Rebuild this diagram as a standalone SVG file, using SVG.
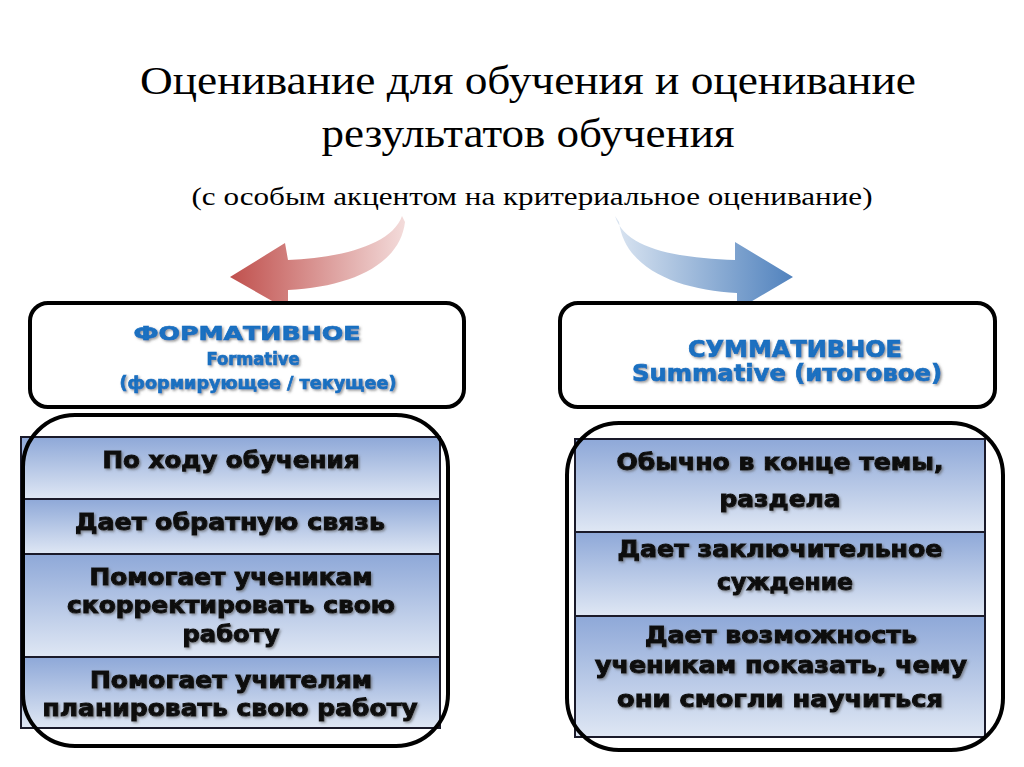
<svg xmlns="http://www.w3.org/2000/svg" width="1024" height="767" viewBox="0 0 1024 767">
<defs>
<style>
.title{font-family:"Liberation Serif","Times New Roman",serif;fill:#000;text-anchor:middle}
.hdr{font-family:"DejaVu Sans","Liberation Sans",sans-serif;font-weight:bold;fill:#1a6fc0;stroke:#1a6fc0;stroke-width:0.7;text-anchor:middle;filter:url(#sh)}
.cell{font-family:"DejaVu Sans","Liberation Sans",sans-serif;font-weight:bold;font-size:23px;fill:#111;stroke:#111;stroke-width:1;text-anchor:middle;filter:url(#sh)}
.box{fill:#fff;stroke:#000;stroke-width:4}
.frame{fill:none;stroke:#000;stroke-width:4}
.row{fill:url(#rowg);stroke:#1a1a2a;stroke-width:2}
</style>
<linearGradient id="rowg" x1="0" y1="0" x2="0" y2="1">
<stop offset="0" stop-color="#8ea8d8"/>
<stop offset="1" stop-color="#dfe7f4"/>
</linearGradient>
<linearGradient id="redg" gradientUnits="userSpaceOnUse" x1="230" y1="0" x2="408" y2="0">
<stop offset="0" stop-color="#c0504d"/>
<stop offset="1" stop-color="#f4dedd"/>
</linearGradient>
<linearGradient id="blueg" gradientUnits="userSpaceOnUse" x1="613" y1="0" x2="795" y2="0">
<stop offset="0" stop-color="#dce6f2"/>
<stop offset="1" stop-color="#4f81bd"/>
</linearGradient>
<filter id="sh" x="-10%" y="-30%" width="120%" height="160%">
<feDropShadow dx="1.5" dy="1.5" stdDeviation="1" flood-color="#555" flood-opacity="0.6"/>
</filter>
</defs>
<rect width="1024" height="767" fill="#fff"/>

<g id="title">
<text class="title" x="528" y="94" font-size="40" textLength="776" lengthAdjust="spacingAndGlyphs">Оценивание для обучения и оценивание</text>
<text class="title" x="528" y="147" font-size="40" textLength="413" lengthAdjust="spacingAndGlyphs">результатов обучения</text>
<text class="title" x="532" y="205" font-size="25" textLength="681" lengthAdjust="spacingAndGlyphs">(с особым акцентом на критериальное оценивание)</text>
</g>

<g id="connectors">
<path d="M285,243 L230,277 L288,310 L288,290 C350,287 400,265 405,222 L402,216 C392,245 340,258 288,260 Z" fill="url(#redg)"/>
<path d="M735,242 L793,277 L737,310 L737,293 C680,290 625,270 619,222 L615,216 C625,250 680,258 735,260 Z" fill="url(#blueg)"/>
</g>

<g id="formative-header">
<rect class="box" x="30" y="303" width="434" height="104" rx="18"/>
<text class="hdr" x="247" y="340" font-size="20" textLength="227" lengthAdjust="spacingAndGlyphs">ФОРМАТИВНОЕ</text>
<text class="hdr" x="253" y="365" font-size="18" textLength="93" lengthAdjust="spacingAndGlyphs">Formative</text>
<text class="hdr" x="258" y="389" font-size="18" textLength="277" lengthAdjust="spacingAndGlyphs">(формирующее / текущее)</text>
</g>

<g id="summative-header">
<rect class="box" x="560" y="303" width="435" height="104" rx="18"/>
<text class="hdr" x="795" y="357" font-size="23" textLength="214" lengthAdjust="spacingAndGlyphs">СУММАТИВНОЕ</text>
<text class="hdr" x="787" y="381" font-size="23" textLength="310" lengthAdjust="spacingAndGlyphs">Summative (итоговое)</text>
</g>

<g id="formative-list">
<rect class="row" x="21" y="437" width="419" height="62"/>
<rect class="row" x="21" y="499" width="419" height="55"/>
<rect class="row" x="21" y="554" width="419" height="103"/>
<rect class="row" x="21" y="657" width="419" height="71"/>
<text class="cell" x="231" y="468" textLength="257" lengthAdjust="spacingAndGlyphs">По ходу обучения</text>
<text class="cell" x="230" y="530" textLength="310" lengthAdjust="spacingAndGlyphs">Дает обратную связь</text>
<text class="cell" x="231" y="585" textLength="283" lengthAdjust="spacingAndGlyphs">Помогает ученикам</text>
<text class="cell" x="231" y="613" textLength="328" lengthAdjust="spacingAndGlyphs">скорректировать свою</text>
<text class="cell" x="231" y="642" textLength="97" lengthAdjust="spacingAndGlyphs">работу</text>
<text class="cell" x="231" y="688" textLength="282" lengthAdjust="spacingAndGlyphs">Помогает учителям</text>
<text class="cell" x="230" y="716" textLength="375" lengthAdjust="spacingAndGlyphs">планировать свою работу</text>
<rect class="frame" x="23" y="415" width="425" height="331" rx="52"/>
</g>

<g id="summative-list">
<rect class="row" x="575" y="439" width="410" height="93"/>
<rect class="row" x="575" y="532" width="410" height="84"/>
<rect class="row" x="575" y="616" width="410" height="121"/>
<text class="cell" x="780" y="470" textLength="327" lengthAdjust="spacingAndGlyphs">Обычно в конце темы,</text>
<text class="cell" x="780" y="507" textLength="121" lengthAdjust="spacingAndGlyphs">раздела</text>
<text class="cell" x="780" y="557" textLength="325" lengthAdjust="spacingAndGlyphs">Дает заключительное</text>
<text class="cell" x="785" y="590" textLength="136" lengthAdjust="spacingAndGlyphs">суждение</text>
<text class="cell" x="781" y="643" textLength="272" lengthAdjust="spacingAndGlyphs">Дает возможность</text>
<text class="cell" x="781" y="673" textLength="372" lengthAdjust="spacingAndGlyphs">ученикам показать, чему</text>
<text class="cell" x="780" y="707" textLength="326" lengthAdjust="spacingAndGlyphs">они смогли научиться</text>
<rect class="frame" x="567" y="423" width="436" height="327" rx="52"/>
</g>
</svg>
